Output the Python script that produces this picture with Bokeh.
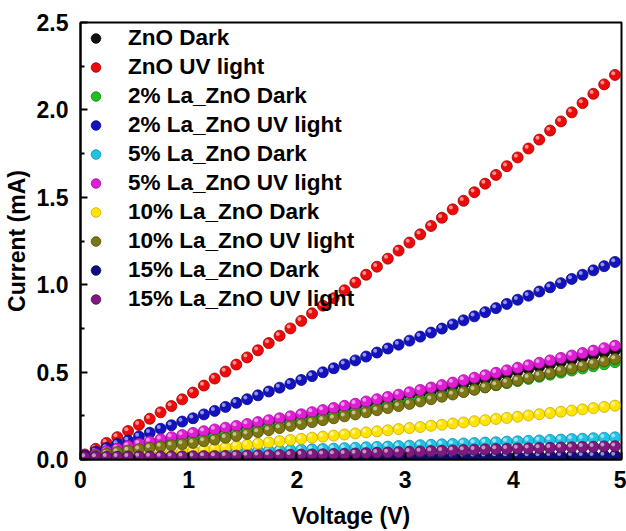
import numpy as np
from bokeh.plotting import figure
from bokeh.models import FixedTicker, PrintfTickFormatter, Legend, LegendItem, Range1d
from bokeh.embed import file_html
from bokeh.resources import INLINE

voltage = [0.04, 0.14, 0.24, 0.34, 0.44, 0.54, 0.64, 0.74, 0.84, 0.94,
           1.04, 1.14, 1.24, 1.34, 1.44, 1.54, 1.64, 1.74, 1.84, 1.94,
           2.04, 2.14, 2.24, 2.34, 2.44, 2.54, 2.64, 2.74, 2.84, 2.94,
           3.04, 3.14, 3.24, 3.34, 3.44, 3.54, 3.64, 3.74, 3.84, 3.94,
           4.04, 4.14, 4.24, 4.34, 4.44, 4.54, 4.64, 4.74, 4.84, 4.94]

zno_dark = [0.010, 0.027, 0.043, 0.057, 0.071, 0.084, 0.097, 0.109, 0.120, 0.131,
            0.142, 0.152, 0.162, 0.172, 0.182, 0.192, 0.203, 0.214, 0.225, 0.236,
            0.247, 0.258, 0.270, 0.281, 0.293, 0.305, 0.317, 0.330, 0.342, 0.355,
            0.368, 0.381, 0.394, 0.407, 0.420, 0.433, 0.446, 0.459, 0.472, 0.488,
            0.505, 0.518, 0.531, 0.545, 0.558, 0.571, 0.585, 0.598, 0.612, 0.625]
zno_uv = [0.029, 0.061, 0.095, 0.128, 0.163, 0.198, 0.233, 0.270, 0.306, 0.344,
          0.383, 0.423, 0.463, 0.503, 0.543, 0.584, 0.625, 0.666, 0.708, 0.750,
          0.793, 0.836, 0.880, 0.923, 0.968, 1.012, 1.057, 1.103, 1.149, 1.195,
          1.241, 1.288, 1.336, 1.383, 1.431, 1.480, 1.529, 1.578, 1.628, 1.678,
          1.728, 1.779, 1.830, 1.882, 1.934, 1.986, 2.039, 2.092, 2.146, 2.200]
la2_dark = [0.010, 0.024, 0.036, 0.047, 0.057, 0.066, 0.075, 0.084, 0.093, 0.102,
            0.111, 0.121, 0.131, 0.141, 0.151, 0.161, 0.172, 0.183, 0.194, 0.205,
            0.216, 0.227, 0.238, 0.249, 0.260, 0.271, 0.282, 0.293, 0.305, 0.317,
            0.329, 0.341, 0.353, 0.365, 0.377, 0.389, 0.401, 0.413, 0.425, 0.437,
            0.449, 0.461, 0.473, 0.485, 0.497, 0.509, 0.521, 0.533, 0.545, 0.557]
la2_uv = [0.022, 0.045, 0.066, 0.088, 0.108, 0.132, 0.153, 0.176, 0.196, 0.217,
          0.236, 0.258, 0.278, 0.301, 0.324, 0.345, 0.367, 0.389, 0.411, 0.433,
          0.455, 0.477, 0.499, 0.522, 0.544, 0.567, 0.589, 0.612, 0.635, 0.657,
          0.680, 0.703, 0.726, 0.749, 0.773, 0.796, 0.819, 0.843, 0.866, 0.890,
          0.914, 0.937, 0.961, 0.985, 1.009, 1.033, 1.057, 1.082, 1.106, 1.130]
la5_dark = [0.010, 0.012, 0.014, 0.016, 0.018, 0.020, 0.022, 0.025, 0.028, 0.031,
            0.034, 0.036, 0.038, 0.040, 0.043, 0.045, 0.048, 0.050, 0.052, 0.054,
            0.056, 0.058, 0.060, 0.062, 0.065, 0.067, 0.070, 0.072, 0.074, 0.077,
            0.079, 0.082, 0.084, 0.087, 0.089, 0.092, 0.094, 0.097, 0.099, 0.102,
            0.104, 0.107, 0.109, 0.112, 0.114, 0.117, 0.119, 0.122, 0.124, 0.127]
la5_uv = [0.012, 0.030, 0.047, 0.062, 0.077, 0.090, 0.103, 0.116, 0.128, 0.140,
          0.152, 0.162, 0.172, 0.182, 0.192, 0.203, 0.214, 0.225, 0.236, 0.247,
          0.259, 0.271, 0.283, 0.295, 0.307, 0.319, 0.332, 0.345, 0.358, 0.371,
          0.385, 0.398, 0.412, 0.426, 0.440, 0.454, 0.468, 0.482, 0.496, 0.510,
          0.525, 0.539, 0.553, 0.567, 0.581, 0.595, 0.609, 0.623, 0.637, 0.651]
la10_dark = [0.005, 0.008, 0.011, 0.014, 0.018, 0.022, 0.027, 0.032, 0.038, 0.044,
             0.050, 0.056, 0.063, 0.070, 0.077, 0.084, 0.091, 0.098, 0.105, 0.112,
             0.118, 0.125, 0.131, 0.137, 0.143, 0.149, 0.155, 0.161, 0.167, 0.174,
             0.180, 0.186, 0.193, 0.199, 0.206, 0.212, 0.219, 0.225, 0.232, 0.238,
             0.245, 0.252, 0.259, 0.266, 0.273, 0.280, 0.287, 0.294, 0.301, 0.308]
la10_uv = [0.010, 0.022, 0.033, 0.043, 0.051, 0.059, 0.067, 0.074, 0.081, 0.088,
           0.095, 0.105, 0.114, 0.124, 0.135, 0.146, 0.157, 0.168, 0.180, 0.192,
           0.203, 0.214, 0.225, 0.236, 0.247, 0.258, 0.270, 0.282, 0.294, 0.306,
           0.318, 0.332, 0.345, 0.359, 0.372, 0.386, 0.399, 0.413, 0.426, 0.440,
           0.453, 0.467, 0.480, 0.494, 0.507, 0.521, 0.534, 0.548, 0.561, 0.575]
la15_dark = [0.012, 0.012, 0.012, 0.013, 0.013, 0.013, 0.013, 0.013, 0.014, 0.014,
             0.014, 0.014, 0.014, 0.015, 0.015, 0.015, 0.015, 0.015, 0.016, 0.016,
             0.016, 0.016, 0.016, 0.017, 0.017, 0.017, 0.017, 0.017, 0.018, 0.018,
             0.018, 0.018, 0.018, 0.019, 0.019, 0.019, 0.019, 0.019, 0.020, 0.020,
             0.020, 0.020, 0.020, 0.021, 0.021, 0.021, 0.021, 0.021, 0.022, 0.022]
la15_uv = [0.014, 0.0145, 0.015, 0.0155, 0.016, 0.0165, 0.017, 0.0175, 0.018, 0.0185,
           0.019, 0.0195, 0.020, 0.021, 0.022, 0.023, 0.024, 0.025, 0.026, 0.027,
           0.028, 0.029, 0.030, 0.031, 0.032, 0.034, 0.036, 0.038, 0.040, 0.042,
           0.044, 0.046, 0.048, 0.050, 0.052, 0.054, 0.056, 0.058, 0.060, 0.061,
           0.063, 0.064, 0.066, 0.067, 0.069, 0.070, 0.072, 0.073, 0.075, 0.076]

labels = ["ZnO Dark", "ZnO UV light", "2% La_ZnO Dark", "2% La_ZnO UV light",
          "5% La_ZnO Dark", "5% La_ZnO UV light", "10% La_ZnO Dark",
          "10% La_ZnO UV light", "15% La_ZnO Dark", "15% La_ZnO UV light"]
series = [zno_dark, zno_uv, la2_dark, la2_uv, la5_dark, la5_uv,
          la10_dark, la10_uv, la15_dark, la15_uv]
colors = ["#111111", "#ee0a0a", "#1ec21e", "#1212c0", "#1ec4e6", "#e01cd6",
          "#ffe400", "#7c7614", "#0e0e7c", "#7e1a7e"]
edges = ["#000000", "#a00000", "#108010", "#080880", "#1088a8", "#a00e98",
         "#c8a800", "#4e4a08", "#060650", "#500c50"]

FONT = "Liberation Sans"
L, R, T, B = 78, 5, 22, 71
W, H = 626, 531

p = figure(width=W, height=H, output_backend="svg", toolbar_location=None,
           x_range=Range1d(0, 5), y_range=Range1d(0, 2.5),
           min_border_left=L, min_border_right=R, min_border_top=T, min_border_bottom=B)
p.grid.visible = False
p.background_fill_color = "white"
p.border_fill_color = "white"
p.outline_line_color = "black"
p.outline_line_width = 2

fw = W - L - R
fh = H - T - B
dx = 1.8 * 5 / fw
dy = 1.8 * 2.5 / fh

items = []
vx = np.array(voltage)
for lab, ys, c, e in zip(labels, series, colors, edges):
    ya = np.array(ys)
    r = p.scatter(vx, ya, size=11, fill_color=c, line_color=e, line_width=0.8)
    p.scatter(vx - dx, ya + dy, size=4, fill_color="white", fill_alpha=0.55, line_color=None)
    items.append(LegendItem(label=lab, renderers=[r]))

legend = Legend(items=items, location="top_left")
legend.label_text_font = FONT
legend.label_text_font_style = "bold"
legend.label_text_font_size = "22.5px"
legend.label_text_color = "black"
legend.glyph_width = 25
legend.glyph_height = 24
legend.label_height = 24
legend.spacing = 3
legend.padding = 0
legend.margin = 3
legend.label_standoff = 20
legend.border_line_color = None
legend.background_fill_alpha = 0
p.add_layout(legend)

p.xaxis.ticker = FixedTicker(ticks=[0, 1, 2, 3, 4, 5], minor_ticks=[0.5, 1.5, 2.5, 3.5, 4.5])
p.yaxis.ticker = FixedTicker(ticks=[0, 0.5, 1.0, 1.5, 2.0, 2.5],
                             minor_ticks=[0.25, 0.75, 1.25, 1.75, 2.25])
p.xaxis.formatter = PrintfTickFormatter(format="%d")
p.yaxis.formatter = PrintfTickFormatter(format="%.1f")
p.xaxis.axis_label = "Voltage (V)"
p.yaxis.axis_label = "Current (mA)"

for ax in (p.xaxis[0], p.yaxis[0]):
    ax.axis_line_width = 2
    ax.axis_line_color = "black"
    ax.major_tick_in = 7
    ax.major_tick_out = 0
    ax.minor_tick_in = 4
    ax.minor_tick_out = 0
    ax.major_tick_line_width = 2
    ax.minor_tick_line_width = 2
    ax.major_label_text_font = FONT
    ax.major_label_text_font_style = "bold"
    ax.major_label_text_font_size = "23px"
    ax.major_label_text_color = "black"
    ax.axis_label_text_font = FONT
    ax.axis_label_text_font_style = "bold"
    ax.axis_label_text_font_size = "23px"
    ax.axis_label_text_color = "black"

p.yaxis.major_label_standoff = 12
p.yaxis.axis_label_standoff = 4
p.xaxis.major_label_standoff = 11
p.xaxis.axis_label_standoff = 12

open("out.html", "w").write(file_html(p, INLINE))
